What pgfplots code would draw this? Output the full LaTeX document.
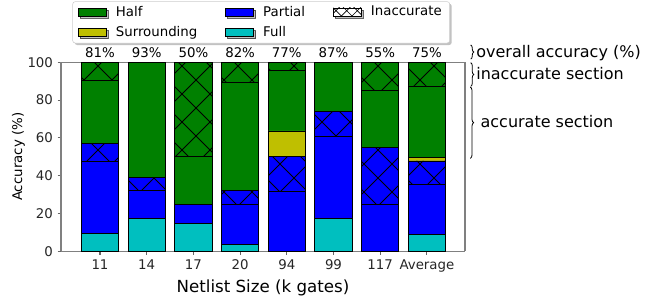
\documentclass[border=0pt]{standalone}
\usepackage{fontspec}
\setmainfont{DejaVu Sans}
\usepackage{pgfplots}
\usepackage{pgfplotstable}
\pgfplotsset{compat=1.18}
\usetikzlibrary{patterns,decorations.pathreplacing,shadows}
\definecolor{mgreen}{rgb}{0,0.5,0}
\definecolor{myellow}{rgb}{0.75,0.75,0}
\definecolor{mblue}{rgb}{0,0,1}
\definecolor{mcyan}{rgb}{0,0.75,0.75}
\pgfdeclarepatternformonly{bigx}{\pgfqpoint{-1pt}{-1pt}}{\pgfqpoint{22pt}{22pt}}{\pgfqpoint{21pt}{21pt}}{%
 \pgfsetlinewidth{0.6pt}%
 \pgfpathmoveto{\pgfqpoint{0pt}{0pt}}\pgfpathlineto{\pgfqpoint{21pt}{21pt}}%
 \pgfpathmoveto{\pgfqpoint{0pt}{21pt}}\pgfpathlineto{\pgfqpoint{21pt}{0pt}}%
 \pgfusepath{stroke}}
\pgfdeclarepatternformonly{smallx}{\pgfqpoint{-1pt}{-1pt}}{\pgfqpoint{9pt}{9pt}}{\pgfqpoint{8pt}{8pt}}{%
 \pgfsetlinewidth{0.5pt}%
 \pgfpathmoveto{\pgfqpoint{0pt}{0pt}}\pgfpathlineto{\pgfqpoint{8pt}{8pt}}%
 \pgfpathmoveto{\pgfqpoint{0pt}{8pt}}\pgfpathlineto{\pgfqpoint{8pt}{0pt}}%
 \pgfusepath{stroke}}

\pgfplotstableread{
x full pacc pinacc surr hacc hinacc
0 9.5 38.1 9.5 0 33.5 9.4
1 17.5 14.8 7.0 0 60.7 0
2 14.8 10.1 0 0 25.1 50
3 3.5 21.4 7.4 0 57.3 10.4
4 0 31.5 18.5 13.7 31.9 4.4
5 17.3 43.5 13.4 0 25.8 0
6 0 24.9 30.1 0 30.2 14.8
7 9.0 26.4 12.4 1.7 38.0 12.5
}\datatable

\begin{document}
\begin{tikzpicture}
\path[use as bounding box] (-45.75pt,-39.5pt) rectangle (451.5pt,188.5pt);
\begin{axis}[
  at={(0,0)}, anchor=south west,
  scale only axis, width=303pt, height=141.75pt,
  ybar stacked, bar width=0.8,
  xmin=-0.835, xmax=7.816, ymin=0, ymax=100,
  clip=false,
  xtick={0,...,7},
  xticklabels={11,14,17,20,94,99,117,Average},
  ytick={0,20,40,60,80,100},
  /pgf/number format/assume math mode=true,
  tick label style={font=\fontsize{10}{12}\selectfont, text=black!85},
  tick align=outside, xtick pos=left, ytick pos=left,
  major tick length=2.5pt,
  tick style={draw=black!60, line width=0.8pt},
  separate axis lines,
  axis line style={draw=black!50, line width=0.9pt},
  every axis y label/.style={at={(rel axis cs:0,0.5)}, xshift=-32pt, rotate=90, anchor=center, font=\fontsize{10}{12}\selectfont},
  every axis x label/.style={at={(rel axis cs:0.5,0)}, yshift=-27.5pt, anchor=center, font=\fontsize{12.5}{15}\selectfont},
  ylabel={Accuracy (\%)},
  xlabel={Netlist Size (k gates)},
  legend columns=3,
  legend cell align=left,
  legend image code/.code={\draw[sharp corners, #1] (0pt,-3pt) rectangle (21pt,3pt);},
  legend style={at={(0.4955,1.1005)}, anchor=south, draw=black!20, rounded corners=2pt,
    fill=white, font=\fontsize{10}{12}\selectfont,
    inner xsep=4pt, inner ysep=1.2pt,
    drop shadow={shadow xshift=1.5pt, shadow yshift=-1.5pt, fill=black!40, opacity=0.6},
    /tikz/row sep=2.5pt,
    /tikz/every odd column/.append style={column sep=5pt},
    /tikz/every even column/.append style={column sep=19pt}},
]
\addplot[forget plot, fill=mcyan, draw=black, line width=0.6pt] table[x=x,y=full] {\datatable};
\addplot[forget plot, fill=mblue, draw=black, line width=0.6pt] table[x=x,y=pacc] {\datatable};
\addplot[forget plot, fill=mblue, draw=black, line width=0.6pt, postaction={pattern=bigx, pattern color=black}] table[x=x,y=pinacc] {\datatable};
\addplot[forget plot, fill=myellow, draw=black, line width=0.6pt] table[x=x,y=surr] {\datatable};
\addplot[forget plot, fill=mgreen, draw=black, line width=0.6pt] table[x=x,y=hacc] {\datatable};
\addplot[forget plot, fill=mgreen, draw=black, line width=0.6pt, postaction={pattern=bigx, pattern color=black}] table[x=x,y=hinacc] {\datatable};

\addlegendimage{fill=mgreen, draw=black}
\addlegendentry{Half}
\addlegendimage{fill=mblue, draw=black}
\addlegendentry{Partial}
\addlegendimage{fill=white, draw=black, postaction={pattern=smallx, pattern color=black}}
\addlegendentry{Inaccurate}
\addlegendimage{fill=myellow, draw=black}
\addlegendentry{Surrounding}
\addlegendimage{fill=mcyan, draw=black}
\addlegendentry{Full}

\node[anchor=base, inner sep=0pt, font=\fontsize{10}{12}\selectfont] at ([yshift=3.8pt]axis cs:0,100) {81\%};
\node[anchor=base, inner sep=0pt, font=\fontsize{10}{12}\selectfont] at ([yshift=3.8pt]axis cs:1,100) {93\%};
\node[anchor=base, inner sep=0pt, font=\fontsize{10}{12}\selectfont] at ([yshift=3.8pt]axis cs:2,100) {50\%};
\node[anchor=base, inner sep=0pt, font=\fontsize{10}{12}\selectfont] at ([yshift=3.8pt]axis cs:3,100) {82\%};
\node[anchor=base, inner sep=0pt, font=\fontsize{10}{12}\selectfont] at ([yshift=3.8pt]axis cs:4,100) {77\%};
\node[anchor=base, inner sep=0pt, font=\fontsize{10}{12}\selectfont] at ([yshift=3.8pt]axis cs:5,100) {87\%};
\node[anchor=base, inner sep=0pt, font=\fontsize{10}{12}\selectfont] at ([yshift=3.8pt]axis cs:6,100) {55\%};
\node[anchor=base, inner sep=0pt, font=\fontsize{10}{12}\selectfont] at ([yshift=3.8pt]axis cs:7,100) {75\%};

\draw[decorate, decoration={brace, amplitude=2.3pt}, line width=0.6pt] ([xshift=4.3pt]axis cs:7.816,109.2) -- ([xshift=4.3pt]axis cs:7.816,101.7);
\draw[decorate, decoration={brace, amplitude=2.3pt}, line width=0.6pt] ([xshift=4.3pt]axis cs:7.816,99.8) -- ([xshift=4.3pt]axis cs:7.816,87.3);
\draw[decorate, decoration={brace, amplitude=2.5pt}, line width=0.6pt] ([xshift=4pt]axis cs:7.816,86.9) -- ([xshift=4pt]axis cs:7.816,49.2);
\node[anchor=west, inner sep=0pt, font=\fontsize{12}{14}\selectfont] at ([xshift=8.3pt]axis cs:7.816,105.1) {overall accuracy (\%)};
\node[anchor=west, inner sep=0pt, font=\fontsize{12}{14}\selectfont] at ([xshift=8.3pt]axis cs:7.816,94.0) {inaccurate section};
\node[anchor=west, inner sep=0pt, font=\fontsize{12}{14}\selectfont] at ([xshift=11.5pt]axis cs:7.816,68.6) {accurate section};
\end{axis}
\end{tikzpicture}
\end{document}
